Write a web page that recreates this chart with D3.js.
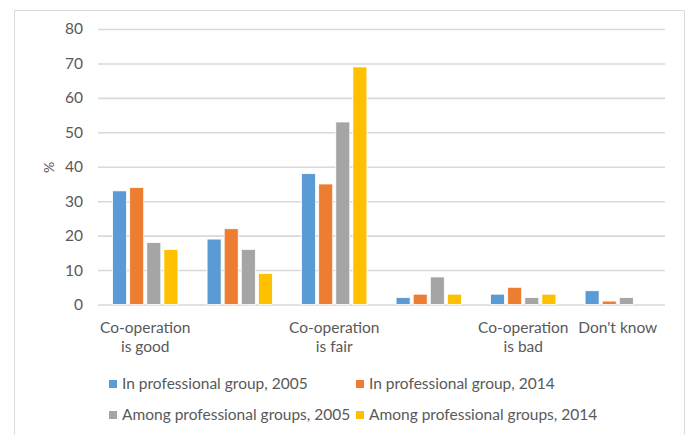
<!DOCTYPE html>
<html>
<head>
<meta charset="utf-8">
<script src="https://cdn.jsdelivr.net/npm/d3@7"></script>
<style>
  html, body { margin: 0; padding: 0; background: #fff; }
  svg { display: block; }
  text { font-family: Lato, "Open Sans", sans-serif; fill: #595959; }
</style>
</head>
<body>
<svg id="chart" width="689" height="434"></svg>
<script>
// Category tick labels ("\n" marks a line break; blank = label not printed)
const categories = ["good", "rather good", "fair", "rather bad", "bad", "dont know"];
const tickLabels = ["Co-operation\nis good", "", "Co-operation\nis fair", "", "Co-operation\nis bad", "Don't know"];

const seriesNames = [
  "In professional group, 2005",
  "In professional group, 2014",
  "Among professional groups, 2005",
  "Among professional groups, 2014"
];
const seriesColors = ["#5b9bd5", "#ed7d31", "#a5a5a5", "#ffc000"];

// Percent of respondents per category
const inGroup2005     = [33, 19, 38, 2, 3, 4];
const inGroup2014     = [34, 22, 35, 3, 5, 1];
const amongGroups2005 = [18, 16, 53, 8, 2, 2];
const amongGroups2014 = [16, 9, 69, 3, 3, null];
const seriesValues = [inGroup2005, inGroup2014, amongGroups2005, amongGroups2014];

const yTicks = [0, 10, 20, 30, 40, 50, 60, 70, 80];

const svg = d3.select("#chart");

// outer frame (open at the bottom edge)
svg.append("path")
  .attr("d", "M14.5,434 V10.5 H684.5 V434")
  .attr("fill", "none")
  .attr("stroke", "#d9d9d9")
  .attr("stroke-width", 1);

const plot = { left: 98, right: 665, top: 29, bottom: 304.5 };

const y = d3.scaleLinear().domain([0, 80]).range([plot.bottom, plot.top]);
const x0 = d3.scaleBand().domain(categories).range([plot.left, plot.right]).padding(0);
const groupWidth = 68.4;
const x1 = d3.scaleBand().domain(d3.range(seriesNames.length))
  .range([0, groupWidth]).paddingInner(0.18).paddingOuter(0.09);

// gridlines
const yAxis = d3.axisLeft(y).tickValues(yTicks).tickSize(-(plot.right - plot.left)).tickPadding(15);
const gY = svg.append("g").attr("transform", `translate(${plot.left},0)`).call(yAxis);
gY.select(".domain").remove();
gY.selectAll(".tick line").attr("stroke", "#d9d9d9").attr("stroke-width", 1.6);
gY.selectAll(".tick text")
  .attr("font-size", 15.5)
  .attr("fill", "#595959")
  .style("font-family", "Lato, sans-serif");

// axis title
svg.append("text")
  .attr("transform", "translate(54,167.5) rotate(-90)")
  .attr("text-anchor", "middle")
  .attr("font-size", 14)
  .text("%");

// bars
const groups = svg.append("g").selectAll("g")
  .data(categories)
  .join("g")
  .attr("transform", d => `translate(${x0(d) + x0.bandwidth() / 2 - groupWidth / 2},0)`);

groups.selectAll("rect")
  .data((d, i) => seriesValues.map((vals, s) => ({ s, v: vals[i] })).filter(e => e.v != null))
  .join("rect")
  .attr("x", d => x1(d.s))
  .attr("width", x1.bandwidth())
  .attr("y", d => y(d.v))
  .attr("height", d => y(0) - y(d.v))
  .attr("fill", d => seriesColors[d.s])
  .attr("stroke", "#fff")
  .attr("stroke-width", 0.8);

// category labels
const xAxis = d3.axisBottom(x0).tickSize(0).tickFormat("");
const gX = svg.append("g").attr("transform", `translate(0,${plot.bottom})`).call(xAxis);
gX.select(".domain").remove();
gX.selectAll(".tick").each(function (d, i) {
  const lines = tickLabels[i] ? tickLabels[i].split("\n") : [];
  const t = d3.select(this).append("text")
    .attr("text-anchor", "middle")
    .attr("font-size", 15.5)
    .attr("fill", "#595959")
    .style("font-family", "Lato, sans-serif");
  lines.forEach((ln, k) => {
    t.append("tspan").attr("x", 0).attr("y", 28 + k * 19).text(ln);
  });
});

// legend
const legendPos = [
  { x: 109, y: 384 }, { x: 356, y: 384 },
  { x: 109, y: 415 }, { x: 356, y: 415 }
];
const legend = svg.append("g").selectAll("g")
  .data(seriesNames)
  .join("g")
  .attr("transform", (d, i) => `translate(${legendPos[i].x},${legendPos[i].y})`);
legend.append("rect")
  .attr("x", 0).attr("y", -4).attr("width", 8).attr("height", 8)
  .attr("fill", (d, i) => seriesColors[i]);
legend.append("text")
  .attr("x", 13).attr("y", 0).attr("dy", "0.35em")
  .attr("font-size", 15.5)
  .text(d => d);
</script>
</body>
</html>
